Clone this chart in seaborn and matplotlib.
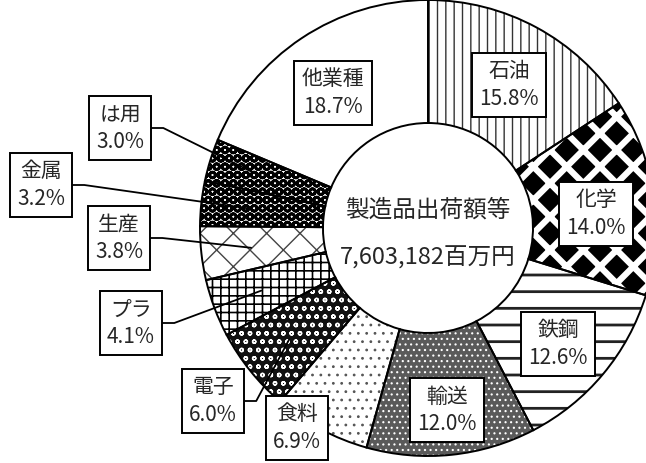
import matplotlib
matplotlib.use("Agg")
import matplotlib.pyplot as plt
import seaborn as sns
import numpy as np

# data
industries = ["石油", "化学", "鉄鋼", "輸送", "食料", "電子", "プラ", "生産", "金属", "は用", "他業種"]
shares = [15.8, 14.0, 12.6, 12.0, 6.9, 6.0, 4.1, 3.8, 3.2, 3.0, 18.7]
center_title = "製造品出荷額等"
center_total = "7,603,182百万円"

# fill style per wedge: (facecolor, hatch, hatch colour, hatch linewidth)
styles = {
    "石油": ("white", "||", "#333333", 1.0),
    "化学": ("black", "x", "white", 4.5),
    "鉄鋼": ("white", "-", "#222222", 2.0),
    "輸送": ("#5a5a5a", "...", "white", 0.8),
    "食料": ("white", "..", "#555555", 0.8),
    "電子": ("#111111", "oo", "white", 1.0),
    "プラ": ("white", "++", "black", 1.2),
    "生産": ("white", "x", "#444444", 1.0),
    "金属": ("white", "OO", "black", 2.0),
    "は用": ("white", "OO", "black", 2.0),
    "他業種": ("white", "", "black", 1.0),
}

# label box centres (pixels, top-left origin) and whether a leader line is used
label_pos = {
    "石油": (509, 85, False),
    "化学": (596, 214, False),
    "鉄鋼": (558, 344, False),
    "輸送": (447, 410, False),
    "食料": (297, 428, False),
    "電子": (213, 401, True),
    "プラ": (131, 323, True),
    "生産": (119, 238, True),
    "金属": (41, 185, True),
    "は用": (120, 128, True),
    "他業種": (333, 93, False),
}

W, H = 646, 463
CX, CY = 428, 228
R_OUT, R_IN = 228, 105

sns.set_style("white")
plt.rcParams["font.family"] = ["Noto Sans CJK JP", "DejaVu Sans"]

fig = plt.figure(figsize=(W / 100, H / 100), dpi=100)
ax = fig.add_axes([0, 0, 1, 1])


def fy(y):
    return H - y


# hatch layer
face = [styles[k][0] for k in industries]
wedges, _ = ax.pie(shares, colors=face, startangle=90, counterclock=False,
                   radius=R_OUT, center=(CX, fy(CY)),
                   wedgeprops=dict(width=R_OUT - R_IN, linewidth=0))
for w, k in zip(wedges, industries):
    fc, hatch, hc, hlw = styles[k]
    w.set_edgecolor(hc)
    w.set_linewidth(0)
    if hatch:
        w.set_hatch(hatch)
        if hasattr(w, "set_hatch_linewidth"):
            w.set_hatch_linewidth(hlw)

# outline layer
ax.pie(shares, colors=["none"] * len(shares), startangle=90, counterclock=False,
       radius=R_OUT, center=(CX, fy(CY)),
       wedgeprops=dict(width=R_OUT - R_IN, edgecolor="black", linewidth=1.4, fill=False))

ax.set_xlim(0, W)
ax.set_ylim(0, H)
ax.set_aspect("equal")
ax.axis("off")

# labels
bbox = dict(boxstyle="square,pad=0.35", facecolor="white", edgecolor="black", linewidth=1.4)
texts = {}
for k, v in zip(industries, shares):
    x, y, leader = label_pos[k]
    texts[k] = ax.text(x, fy(y), f"{k}\n{v:.1f}%", ha="center", va="center", fontsize=15,
                       linespacing=1.3, bbox=bbox, zorder=4)

ax.text(CX, fy(210), center_title, ha="center", va="center", fontsize=17, zorder=4)
ax.text(CX, fy(258), center_total, ha="center", va="center", fontsize=17, zorder=4)

# leader lines from box right edge into the wedge
fig.canvas.draw()
renderer = fig.canvas.get_renderer()
cum = np.cumsum([0] + shares[:-1])
for k, v, start in zip(industries, shares, cum):
    x, y, leader = label_pos[k]
    if not leader:
        continue
    ext = texts[k].get_bbox_patch().get_window_extent(renderer)
    xr = ax.transData.inverted().transform((ext.x1, 0))[0]
    ang = np.deg2rad(90 - (start + v / 2) / sum(shares) * 360)
    r = 178
    ex, ey = CX + r * np.cos(ang), fy(CY) + r * np.sin(ang)
    ax.plot([xr, xr + 12, ex], [fy(y), fy(y), ey], color="black", lw=1.3, zorder=3)

plt.savefig("out.png", dpi=100)
